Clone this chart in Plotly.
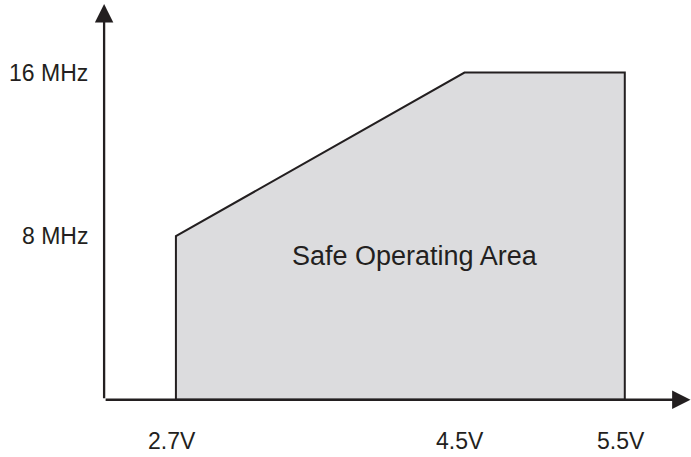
import plotly.graph_objects as go

# Safe operating area: supply voltage (V) vs. max clock frequency (MHz)
voltage = [2.7, 2.7, 4.5, 5.5, 5.5]
frequency = [0, 8, 16, 16, 0]

x_tick_vals = [2.7, 4.5, 5.5]
x_tick_text = ["2.7V", "4.5V", "5.5V"]
y_tick_vals = [8, 16]
y_tick_text = ["8 MHz", "16 MHz"]

INK = "#231f20"
FILL = "#dcdcde"
FONT = "Liberation Sans, Arial, Helvetica, sans-serif"

x_range = [1.6026, 5.913]
y_range = [-2.80, 19.55]
axis_x = 2.252   # where the vertical axis sits
x_tip = 5.91     # arrow tip of horizontal axis
y_tip = 19.35    # arrow tip of vertical axis

fig = go.Figure()

fig.add_trace(go.Scatter(
    x=voltage + [voltage[0]], y=frequency + [frequency[0]],
    mode="lines", fill="toself", fillcolor=FILL,
    line=dict(color=INK, width=2), hoverinfo="skip", showlegend=False,
))

# Axis lines with arrowheads
fig.add_annotation(x=axis_x, y=y_tip, ax=axis_x, ay=0, xref="x", yref="y",
                   axref="x", ayref="y", showarrow=True, arrowhead=2,
                   arrowsize=1.6, arrowwidth=2.3, arrowcolor=INK, text="")
fig.add_annotation(x=x_tip, y=0, ax=axis_x, ay=0, xref="x", yref="y",
                   axref="x", ayref="y", showarrow=True, arrowhead=2,
                   arrowsize=1.6, arrowwidth=2.3, arrowcolor=INK, text="")

for v, t in zip(x_tick_vals, x_tick_text):
    fig.add_annotation(x=v, y=-2.03, text=t, showarrow=False, xref="x", yref="y",
                       xshift=-4, font=dict(family=FONT, size=23, color=INK))

for f, t in zip(y_tick_vals, y_tick_text):
    fig.add_annotation(x=axis_x, y=f, text=t, showarrow=False, xref="x", yref="y",
                       xanchor="right", xshift=-14,
                       font=dict(family=FONT, size=23, color=INK))

fig.add_annotation(x=4.19, y=7.05, text="Safe Operating Area", showarrow=False,
                   xref="x", yref="y", font=dict(family=FONT, size=27, color=INK))

fig.update_layout(
    width=691, height=457,
    margin=dict(l=0, r=0, t=0, b=0),
    paper_bgcolor="white", plot_bgcolor="white",
    xaxis=dict(range=x_range, visible=False, fixedrange=True),
    yaxis=dict(range=y_range, visible=False, fixedrange=True),
)

fig.write_html("out.html")
